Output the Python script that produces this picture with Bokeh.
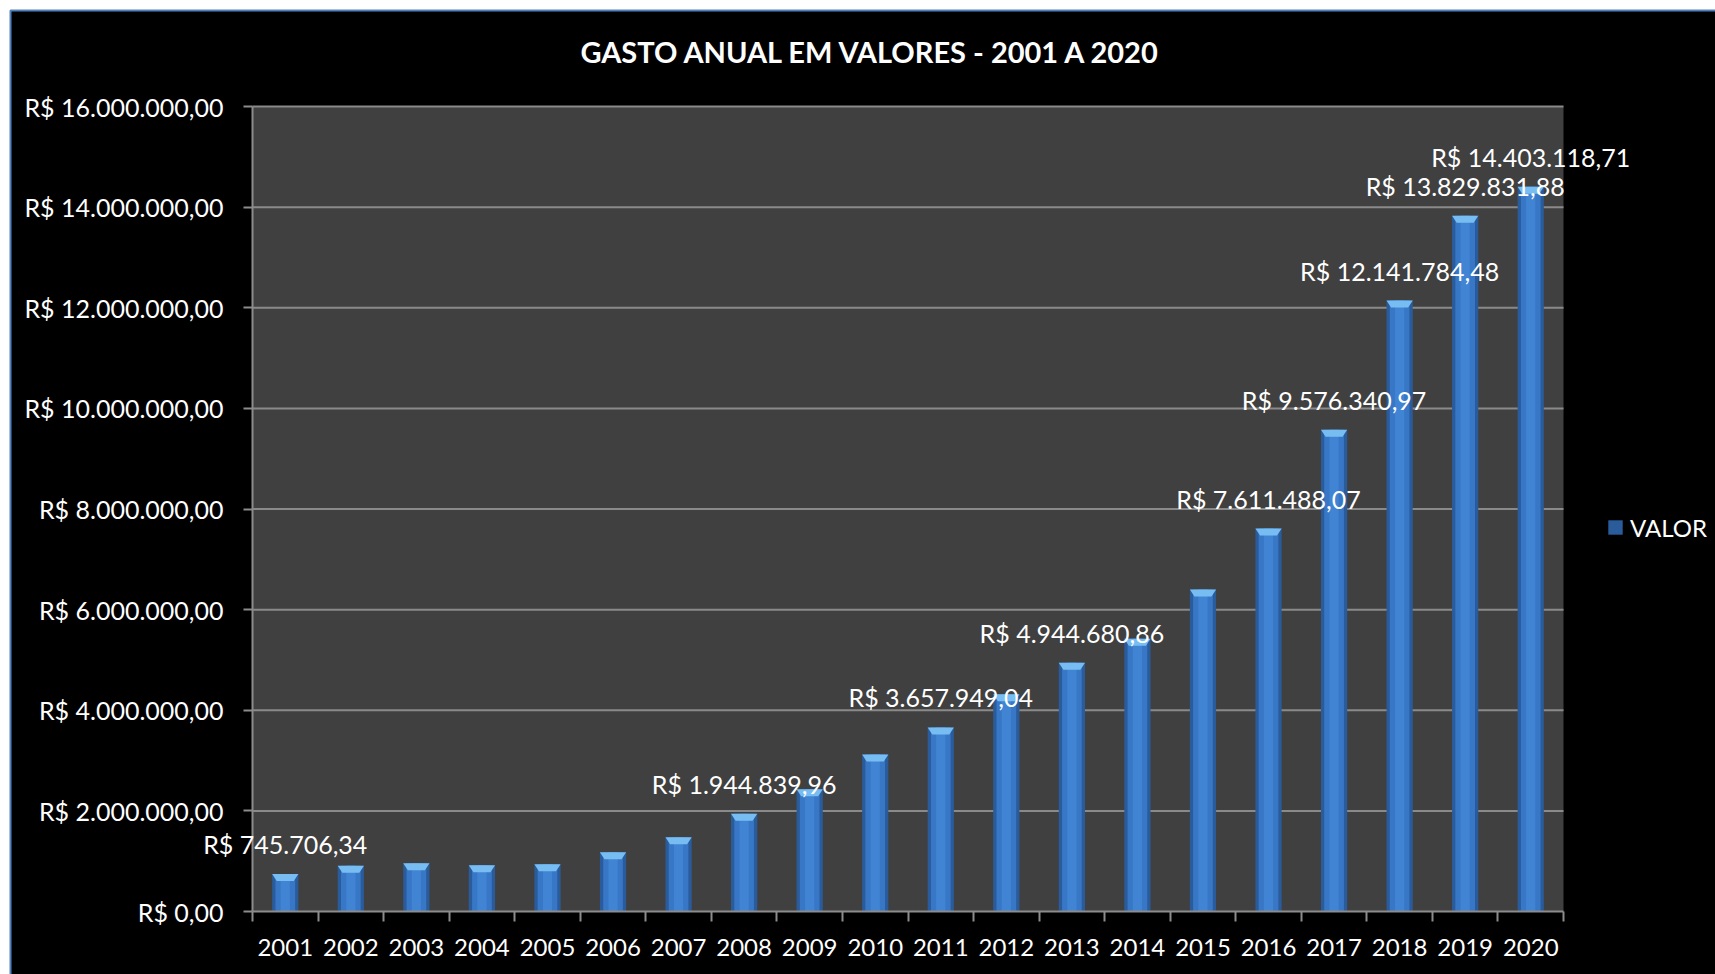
from bokeh.plotting import figure
from bokeh.models import (Range1d, FixedTicker, ColumnDataSource, LabelSet, Label,
                          Legend, LegendItem)
from bokeh.core.properties import value
from bokeh.embed import file_html
from bokeh.resources import INLINE

# ---------------- data ----------------
years = [2001, 2002, 2003, 2004, 2005, 2006, 2007, 2008, 2009, 2010,
         2011, 2012, 2013, 2014, 2015, 2016, 2017, 2018, 2019, 2020]
year_labels = [str(y) for y in years]
valor = [745706.34, 910000.00, 960000.00, 920000.00, 940000.00, 1180000.00,
         1475000.00, 1944839.96, 2430000.00, 3120000.00, 3657949.04, 4320000.00,
         4944680.86, 5420000.00, 6400000.00, 7611488.07, 9576340.97, 12141784.48,
         13829831.88, 14403118.71]
labeled_years = [2001, 2008, 2011, 2013, 2016, 2017, 2018, 2019, 2020]
y_ticks = [0, 2000000, 4000000, 6000000, 8000000, 10000000, 12000000, 14000000, 16000000]
title_text = "GASTO ANUAL EM VALORES - 2001 A 2020"
series_name = "VALOR"


def brl(v):
    s = f"{v:,.2f}"
    s = s.replace(",", "X").replace(".", ",").replace("X", ".")
    return "R$ " + s


FONT = "Lato"
W, H = 1715, 974
# plot-area box inside the canvas (pixels)
PL, PR, PT, PB = 252, 1563, 106, 911
x0, x1 = years[0] - 0.5, years[-1] + 0.5
y0, y1 = y_ticks[0], y_ticks[-1]
ux = (PR - PL) / (x1 - x0)
uy = (PB - PT) / (y1 - y0)


def dx(px):
    return x0 + (px - PL) / ux


def dy(py):
    return y0 + (PB - py) / uy


p = figure(width=W, height=H, output_backend="svg", toolbar_location=None,
           x_range=Range1d(dx(0), dx(W)), y_range=Range1d(dy(H), dy(0)),
           min_border=0)
p.background_fill_color = "white"
p.border_fill_color = "white"
p.outline_line_color = None
p.xgrid.visible = False
p.ygrid.visible = False

# chart area (black with blue border)
p.quad(left=[dx(10)], right=[dx(W + 20)], bottom=[dy(H + 20)], top=[dy(10)],
       fill_color="black", line_color="#4f81bd", line_width=2)

# plot area background + gridlines
p.quad(left=[x0], right=[x1], bottom=[y0], top=[y1], fill_color="#404040", line_color=None)
p.segment(x0=[x0] * (len(y_ticks) - 1), x1=[x1] * (len(y_ticks) - 1),
          y0=y_ticks[1:], y1=y_ticks[1:], line_color="#8a8a8a", line_width=2)

# bars
src = ColumnDataSource(dict(x=years, top=valor))
outer = p.vbar(x="x", top="top", width=0.40, bottom=0, source=src,
               fill_color="#2a5c9c", line_color=None)
p.vbar(x="x", top="top", width=0.30, bottom=0, source=src,
       fill_color="#3877c6", line_color=None)
p.vbar(x="x", top="top", width=0.14, bottom=0, source=src,
       fill_color="#4184d4", line_color=None)
tri_h = 7 / uy
xs = [[x - 0.2, x + 0.2, x + 0.13, x - 0.13] for x in years]
ys = [[v, v, v - tri_h, v - tri_h] for v in valor]
p.patches(xs, ys, fill_color="#78bdf2", line_color=None)

# data labels
lab_text = [brl(v) if y in labeled_years else "" for y, v in zip(years, valor)]
lsrc = ColumnDataSource(dict(x=years, y=valor, t=lab_text))
p.add_layout(LabelSet(x="x", y="y", text="t", source=lsrc, y_offset=30,
                      text_align="center", text_baseline="middle",
                      text_color="white", text_font=value(FONT),
                      text_font_size="25px"))

# title
p.add_layout(Label(x=dx(871), y=dy(51), text=title_text,
                   text_align="center", text_baseline="middle",
                   text_color="white", text_font=FONT, text_font_style="bold",
                   text_font_size="29px"))

# axes (fixed at the plot-area edges)
p.xaxis.fixed_location = y0
p.xaxis.bounds = (x0, x1)
p.xaxis.ticker = FixedTicker(ticks=years,
                             minor_ticks=[y - 0.5 for y in years] + [years[-1] + 0.5])
p.xaxis.major_label_overrides = {y: l for y, l in zip(years, year_labels)}
p.xaxis.major_tick_out = 0
p.xaxis.major_tick_in = 0
p.xaxis.minor_tick_out = 10
p.xaxis.minor_tick_in = 0
p.xaxis.minor_tick_line_color = "#8c8c8c"
p.xaxis.minor_tick_line_width = 2
p.xaxis.major_label_standoff = 17
p.xaxis.major_label_text_font_size = "24px"

p.yaxis.fixed_location = x0
p.yaxis.bounds = (y0, y1)
p.yaxis.ticker = FixedTicker(ticks=y_ticks, minor_ticks=[])
p.yaxis.major_label_overrides = {t: brl(t) for t in y_ticks}
p.yaxis.major_tick_out = 9
p.yaxis.major_tick_in = 0
p.yaxis.major_tick_line_color = "#8c8c8c"
p.yaxis.major_tick_line_width = 2
p.yaxis.major_label_standoff = 20
p.yaxis.major_label_text_font_size = "25px"

for ax in (p.xaxis, p.yaxis):
    ax.axis_line_color = "#8c8c8c"
    ax.axis_line_width = 2
    ax.major_label_text_color = "white"
    ax.major_label_text_font = FONT

# legend
legend = Legend(items=[LegendItem(label=series_name, renderers=[outer])],
                location=(1606, H - 542), orientation="vertical",
                glyph_width=18, glyph_height=18, label_standoff=6,
                label_height=30, padding=0, margin=0, spacing=0,
                background_fill_alpha=0, border_line_alpha=0,
                label_text_color="white", label_text_font=FONT,
                label_text_font_size="24px")
p.add_layout(legend)

open("out.html", "w").write(file_html(p, INLINE))
